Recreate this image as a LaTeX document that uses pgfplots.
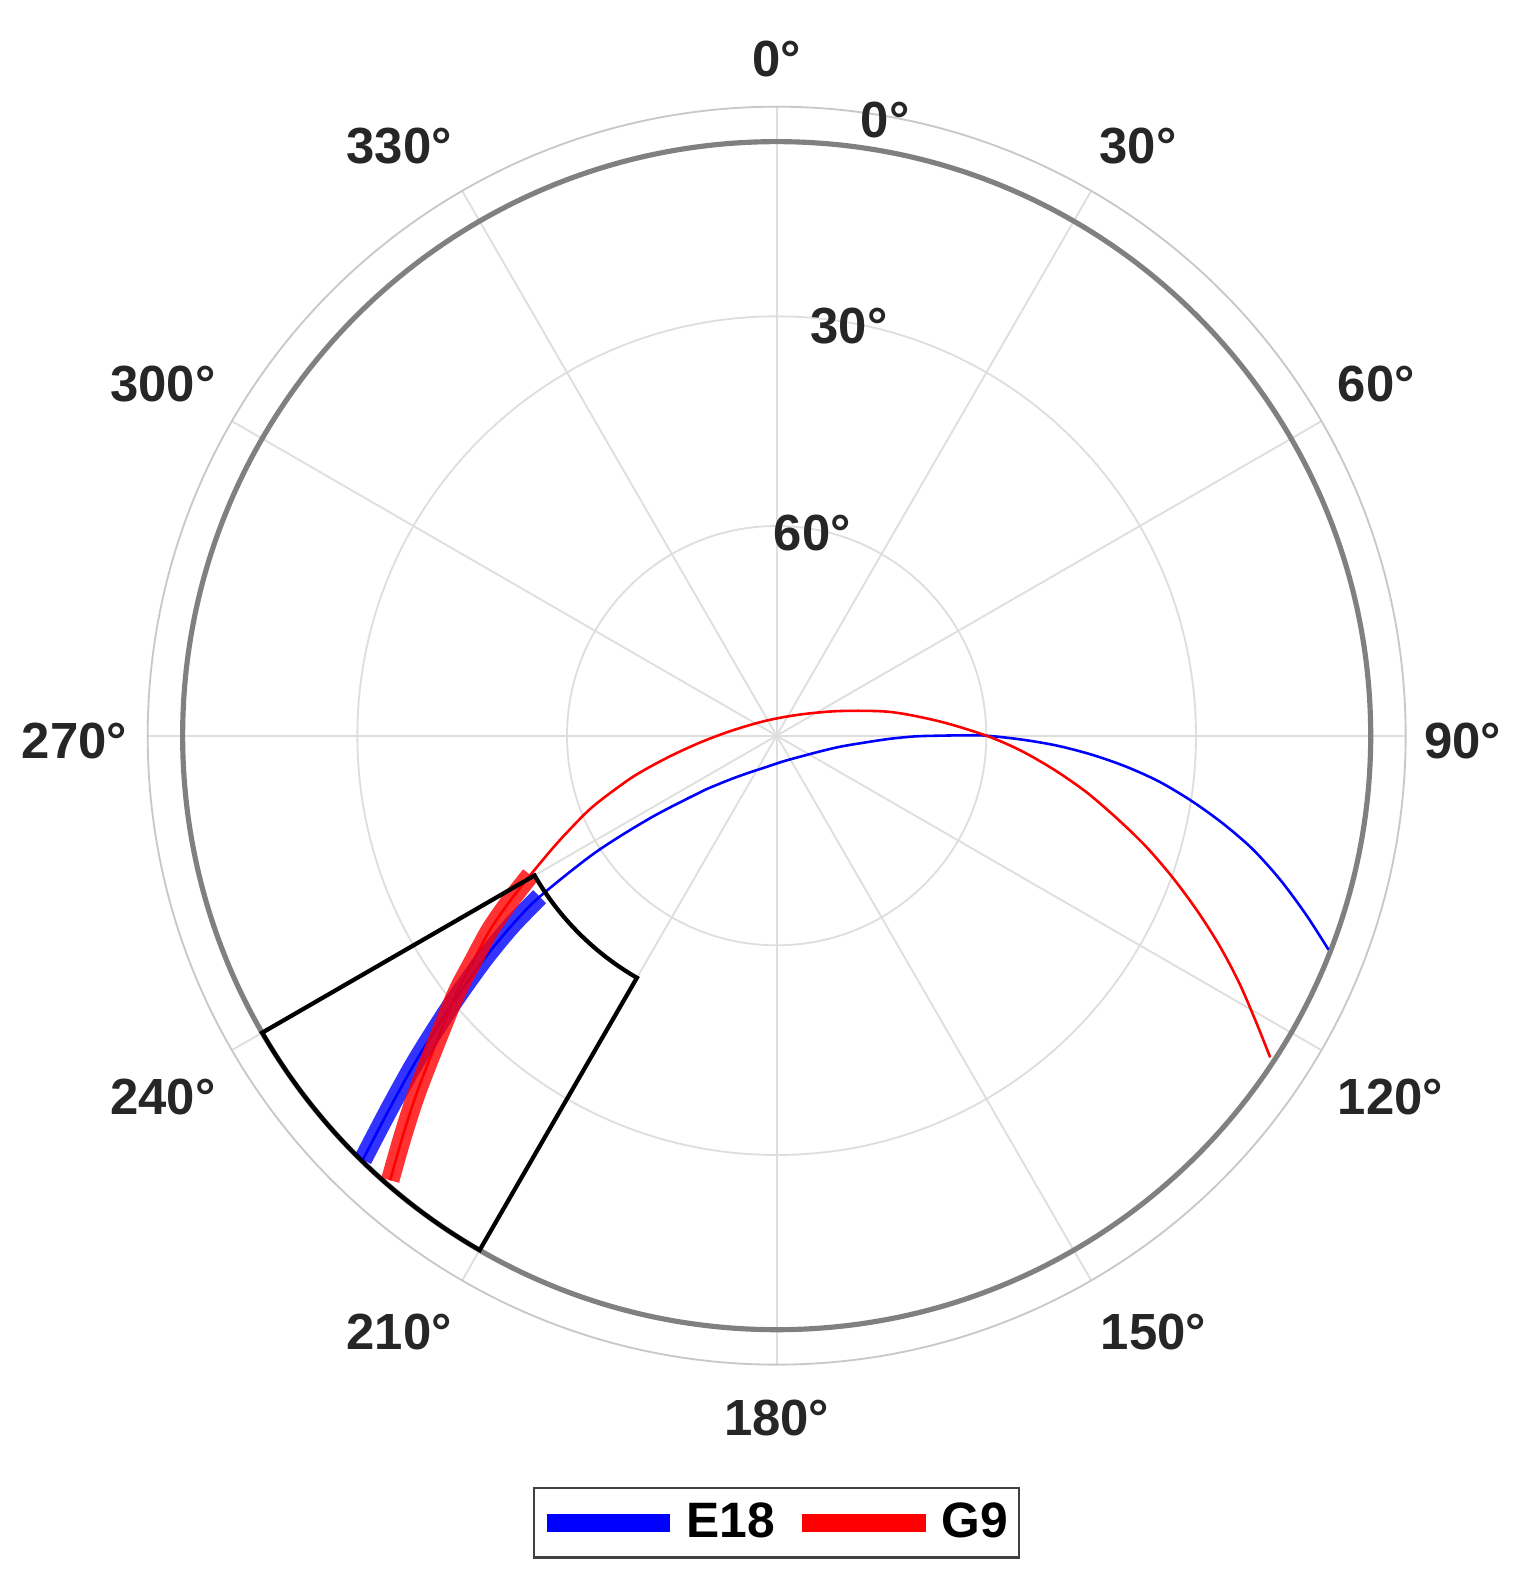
\documentclass[border=0pt]{standalone}
\usepackage{fontspec}
\setmainfont{Liberation Sans}
\usepackage{pgfplots}
\usepackage{pgfplotstable}
\pgfplotsset{compat=1.18}

\definecolor{lbl}{HTML}{262626}
\definecolor{gridc}{HTML}{DEDEDE}
\definecolor{outerc}{HTML}{C8C8C8}
\definecolor{maskc}{HTML}{808080}

% tracks: azimuth (deg, clockwise from north), elevation (deg)
\pgfplotstableread{
az el
224.3 5.2
226.1 13.2
228.0 20.7
230.3 29.3
232.6 37.2
234.4 43.4
235.8 49.0
237.2 59.1
236.9 68.4
233.5 76.4
230.6 78.9
225.5 81.3
216.1 83.5
197.9 85.3
166.3 86.2
132.0 85.5
110.0 83.4
99.9 80.8
94.4 77.3
91.6 73.8
90.3 70.2
90.0 66.6
89.9 63.3
90.0 60.0
90.9 55.0
92.0 50.0
93.4 45.0
95.0 40.0
96.8 35.0
98.9 30.0
101.1 25.0
103.4 20.0
106.0 15.0
108.7 10.0
111.2 5.3
}\bluetrack

\pgfplotstableread{
az el
224.3 5.2
226.1 13.2
228.0 20.7
230.3 29.3
232.6 37.2
234.4 43.4
235.8 49.0
}\blueband

\pgfplotstableread{
az el
221.0 5.7
223.0 11.5
225.2 17.4
228.0 24.5
231.2 31.2
233.4 35.9
235.9 40.5
238.2 45.1
240.5 49.5
243.9 55.0
247.6 60.1
249.8 63.1
254.1 68.7
258.6 74.0
264.9 79.0
277.1 83.7
326.0 87.4
47.8 85.5
68.7 80.3
78.2 73.4
85.0 66.6
90.0 60.0
93.5 55.0
97.0 50.0
100.3 45.0
103.6 40.0
106.6 35.0
109.6 30.0
112.5 25.0
115.3 20.0
118.1 15.0
120.9 10.0
123.1 5.7
}\redtrack

\pgfplotstableread{
az el
221.0 5.7
223.0 11.5
225.2 17.4
228.0 24.5
231.2 31.2
233.4 35.9
235.9 40.5
238.2 45.1
240.5 49.5
}\redband

\begin{document}
\begin{tikzpicture}
\begin{axis}[
    scale only axis,
    width=12cm, height=12cm,
    xmin=-90, xmax=90, ymin=-90, ymax=90,
    hide axis,
    clip=false,
    legend columns=2,
    legend style={at={(0.5,-0.1258)}, anchor=center,
        draw=black!75, line width=0.7pt,
        font=\fontsize{13.5}{16}\selectfont\bfseries,
        inner xsep=1pt, inner ysep=2pt,
        /tikz/every even column/.append style={column sep=0.1cm}},
    legend image code/.code={\draw[#1, line width=4.8pt, opacity=1] (0cm,0cm) -- (1.18cm,0cm);},
]
% polar grid
\draw[gridc, line width=0.5pt] (axis cs:0,0) circle[radius=2cm];
\draw[gridc, line width=0.5pt] (axis cs:0,0) circle[radius=4cm];
\pgfplotsinvokeforeach{0,30,60,90,120,150,180,210,240,270,300,330}{
  \draw[gridc, line width=0.5pt] (axis cs:0,0) -- ++(#1:6cm);
}
\draw[outerc, line width=0.5pt] (axis cs:0,0) circle[radius=6cm];
\draw[maskc, line width=1.4pt] (axis cs:0,0) circle[radius=5.6667cm];
\coordinate (O) at (axis cs:0,0);

\addplot[blue, line width=0.7pt, smooth, forget plot] table[
    x expr={(90-\thisrow{el})*sin(\thisrow{az})},
    y expr={(90-\thisrow{el})*cos(\thisrow{az})}] {\bluetrack};
\addplot[red, line width=0.7pt, smooth, forget plot] table[
    x expr={(90-\thisrow{el})*sin(\thisrow{az})},
    y expr={(90-\thisrow{el})*cos(\thisrow{az})}] {\redtrack};
\addplot[blue, line width=5pt, opacity=0.8, smooth] table[
    x expr={(90-\thisrow{el})*sin(\thisrow{az})},
    y expr={(90-\thisrow{el})*cos(\thisrow{az})}] {\blueband};
\addplot[red, line width=5pt, opacity=0.8, smooth] table[
    x expr={(90-\thisrow{el})*sin(\thisrow{az})},
    y expr={(90-\thisrow{el})*cos(\thisrow{az})}] {\redband};
\legend{E18, G9}
\end{axis}

\begin{scope}[shift={(O)}]
  % azimuth sector 210-240 deg, elevation 5-50 deg
  \draw[black, line width=1.15pt] (-150:5.6667) -- (-150:2.6667)
      arc[start angle=-150, end angle=-120, radius=2.6667]
      -- (-120:5.6667)
      arc[start angle=-120, end angle=-150, radius=5.6667] -- cycle;
  % azimuth labels, placed at their centres
  \foreach \t/\x/\y in {0/0/6.457, 30/3.447/5.622, 60/5.719/3.350, 90/6.544/-0.049,
                        120/5.855/-3.447, 150/3.593/-5.690, 180/0/-6.505,
                        210/-3.602/-5.690, 240/-5.855/-3.447, 270/-6.700/-0.049,
                        300/-5.855/3.350, 330/-3.602/5.622} {
    \node[inner sep=0pt, text=lbl,
          font=\fontsize{13.8}{16}\selectfont\bfseries] at (\x,\y) {\t°};
  }
  % elevation labels
  \node[text=lbl, font=\fontsize{13.8}{16}\selectfont\bfseries] at (80:5.96cm) {0°};
  \node[text=lbl, font=\fontsize{13.8}{16}\selectfont\bfseries] at (80:3.97cm) {30°};
  \node[text=lbl, font=\fontsize{13.8}{16}\selectfont\bfseries] at (80:1.96cm) {60°};
\end{scope}

\pgfresetboundingbox
\path (O) ++(-7.409,-8.207) rectangle ++(14.652,15.225);
\end{tikzpicture}
\end{document}
